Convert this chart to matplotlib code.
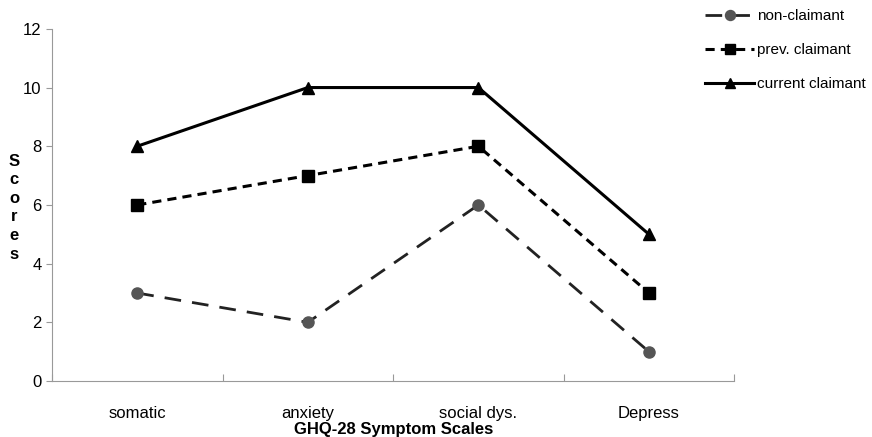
import matplotlib
matplotlib.use("Agg")
import matplotlib.pyplot as plt
import numpy as np

plt.rcParams['font.family'] = ['Liberation Sans Narrow', 'Liberation Sans', 'DejaVu Sans']

categories = ["somatic", "anxiety", "social dys.", "Depress"]
non_claimant = [3, 2, 6, 1]
prev_claimant = [6, 7, 8, 3]
current_claimant = [8, 10, 10, 5]

fig = plt.figure(figsize=(8.72, 4.37), dpi=100)
ax = fig.add_axes([0.0596, 0.128, 0.7824, 0.806])

x = np.arange(len(categories))
ax.plot(x, non_claimant, color="#222222", lw=2, dashes=(6, 4), marker="o",
        ms=8, mfc="#555555", mec="#555555", label="non-claimant")
ax.plot(x, prev_claimant, color="black", lw=2.2, dashes=(3, 2), marker="s",
        ms=8, mfc="black", mec="black", label="prev. claimant")
ax.plot(x, current_claimant, color="black", lw=2.2, marker="^",
        ms=8, mfc="black", mec="black", label="current claimant")

ax.set_xlim(-0.5, len(categories) - 0.5)
ax.set_ylim(0, 12)
ax.set_yticks(range(0, 13, 2))
ax.set_xticks(np.arange(-0.5, len(categories), 1.0))
ax.set_xticklabels([])
ax.set_xticks(x, minor=True)
ax.set_xticklabels(categories, minor=True, fontsize=12)
ax.tick_params(axis="x", which="minor", length=0, pad=18)
ax.tick_params(axis="x", which="major", length=5, direction="in", color="#999999")
ax.tick_params(axis="y", length=4, color="#999999", labelsize=12)
for s in ["top", "right"]:
    ax.spines[s].set_visible(False)
for s in ["left", "bottom"]:
    ax.spines[s].set_color("#999999")

fig.text(0.0161, 0.525, "S\nc\no\nr\ne\ns", fontsize=12, fontweight="bold",
         ha="center", va="center", linespacing=1.3)
fig.text(0.451, 0.018, "GHQ-28 Symptom Scales", fontsize=12, fontweight="bold",
         ha="center", va="center")

leg = fig.legend(loc="upper left", bbox_to_anchor=(0.793, 1.01), frameon=False,
                 fontsize=11, handlelength=3.2, handletextpad=0.2, labelspacing=1.3,
                 markerscale=0.9)

fig.savefig("out.png", dpi=100)
